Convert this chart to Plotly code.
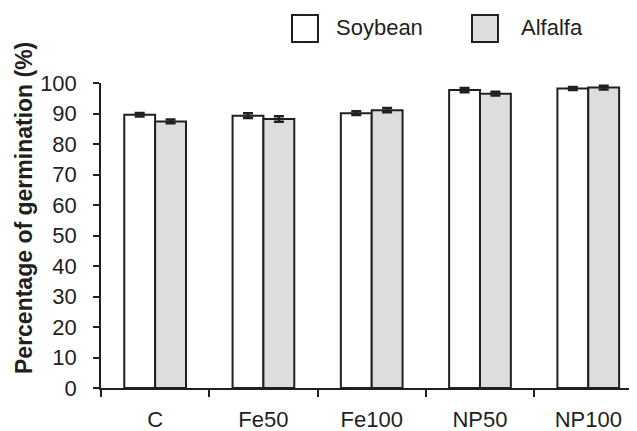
import plotly.graph_objects as go

categories = ["C", "Fe50", "Fe100", "NP50", "NP100"]
soybean = [89.6, 89.3, 90.1, 97.7, 98.2]
soybean_err = [0.6, 0.8, 0.6, 0.7, 0.5]
alfalfa = [87.4, 88.2, 91.1, 96.5, 98.5]
alfalfa_err = [0.6, 0.9, 0.7, 0.6, 0.6]
y_ticks = list(range(0, 101, 10))

# page body has an 8px default margin: shift the figure to compensate
OFF = 8
W, H = 637 - OFF, 431 - OFF
ML, MR, MT, MB = 101 - OFF, 0, 83 - OFF, 43
PW, PH = W - ML - MR, H - MT - MB

def px(x):
    return (x - OFF - ML) / PW

def py(y):
    return (H - MB - (y - OFF)) / PH

ink = "#231f20"
font_family = "Liberation Sans, Arial, Helvetica, sans-serif"

fig = go.Figure()
fig.add_trace(go.Bar(
    x=categories, y=soybean, name="Soybean",
    marker=dict(color="white", line=dict(color=ink, width=2)),
    error_y=dict(type="data", array=soybean_err, color=ink, thickness=2.5, width=5),
))
fig.add_trace(go.Bar(
    x=categories, y=alfalfa, name="Alfalfa",
    marker=dict(color="#dcdddf", line=dict(color=ink, width=2)),
    error_y=dict(type="data", array=alfalfa_err, color=ink, thickness=2.5, width=5),
))

shapes = []
annotations = []
for (x0, x1, fill, label, tx) in [(292, 318, "white", "Soybean", 334),
                                   (472, 498, "#dcdddf", "Alfalfa", 519)]:
    shapes.append(dict(type="rect", xref="paper", yref="paper",
                       x0=px(x0), x1=px(x1), y0=py(42), y1=py(15),
                       fillcolor=fill, line=dict(color=ink, width=2)))
    annotations.append(dict(text=label, xref="paper", yref="paper",
                            x=px(tx), y=py(27), xanchor="left", yanchor="middle",
                            showarrow=False, font=dict(size=22, color=ink, family=font_family)))

annotations.append(dict(text="<b>Percentage of germination (%)</b>", textangle=-90,
                        xref="paper", yref="paper", x=px(24), y=py(208),
                        xanchor="center", yanchor="middle", showarrow=False,
                        font=dict(size=23, color=ink, family=font_family)))

fig.update_layout(
    width=W, height=H,
    margin=dict(l=ML, r=MR, t=MT, b=MB, pad=0, autoexpand=False),
    paper_bgcolor="white", plot_bgcolor="white",
    barmode="group", bargap=0.43, bargroupgap=0,
    showlegend=False,
    shapes=shapes, annotations=annotations,
    font=dict(family=font_family, size=22, color=ink),
    xaxis=dict(type="category", range=[-0.5, 4.45], showline=True, linecolor=ink, linewidth=1.5,
               ticks="outside", tickson="boundaries", ticklen=7, tickcolor=ink, tickwidth=1.5,
               ticklabelstandoff=11, showgrid=False, zeroline=False, automargin=False,
               tickfont=dict(size=22, color=ink, family=font_family)),
    yaxis=dict(range=[0, 100], tickvals=y_ticks, showline=True, linecolor=ink, linewidth=1.5,
               ticks="outside", ticklen=6, tickcolor=ink, tickwidth=1.5,
               ticklabelstandoff=12, showgrid=False, zeroline=False, automargin=False,
               tickfont=dict(size=22, color=ink, family=font_family)),
)

fig.write_html("out.html")
